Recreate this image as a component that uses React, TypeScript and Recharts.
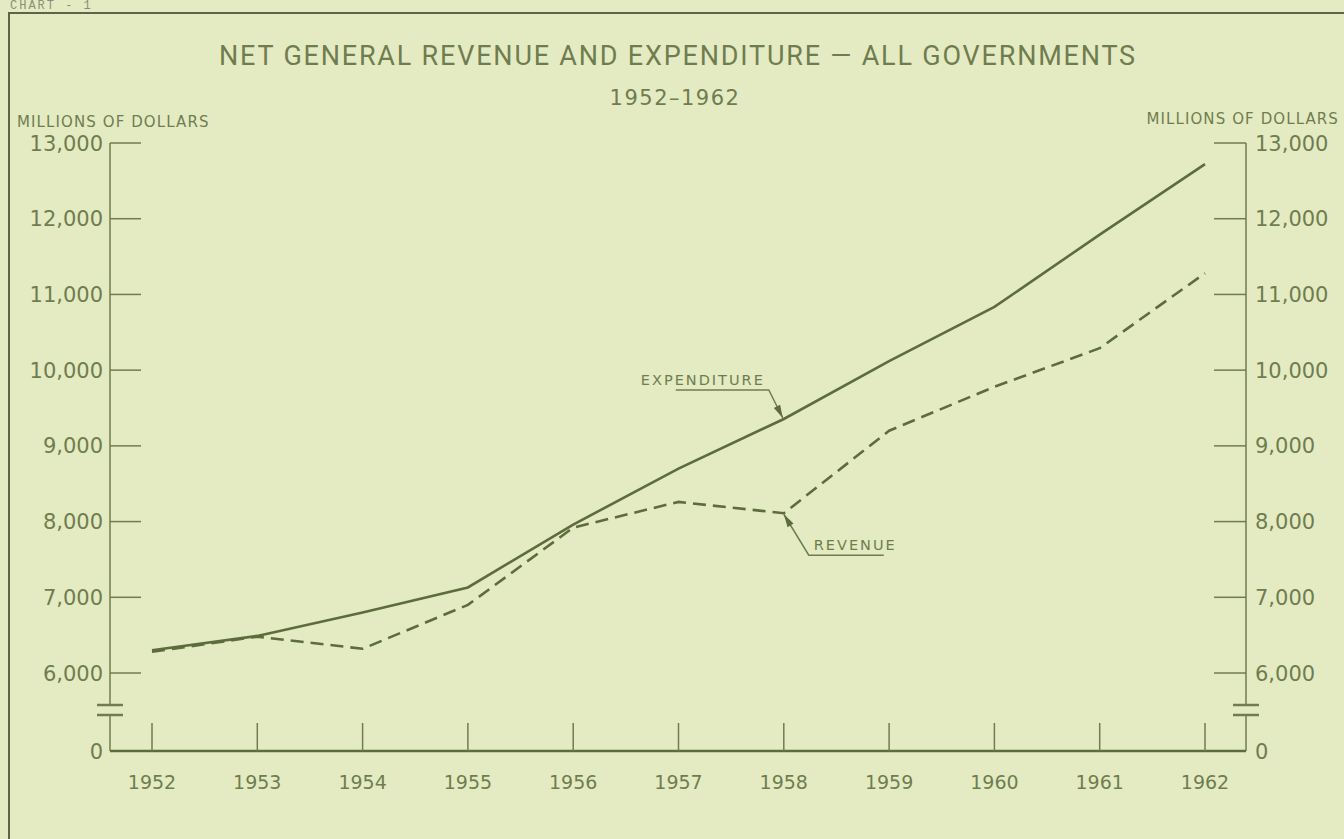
import { LineChart, Line, XAxis, YAxis, ReferenceDot } from 'recharts';

const years = ['1952', '1953', '1954', '1955', '1956', '1957', '1958', '1959', '1960', '1961', '1962'];
const expenditure = [6300, 6490, 6800, 7130, 7960, 8700, 9355, 10120, 10835, 11790, 12720];
const revenue = [6280, 6480, 6320, 6900, 7920, 8260, 8110, 9200, 9780, 10290, 11280];

// the "0" row sits below a scale break, so it gets its own spot on the axis
const AXIS_ZERO = 4970;
const yTicks = [AXIS_ZERO, 6000, 7000, 8000, 9000, 10000, 11000, 12000, 13000];

const data = years.map((year, i) => ({ year, expenditure: expenditure[i], revenue: revenue[i] }));

const BG = '#e4ebc3';
const INK = '#6f7d4e';
const LINE = '#5d6c3b';
const FONT = '"DejaVu Sans", sans-serif';

const fmt = (v: number) => (v < 6000 ? '0' : v.toLocaleString('en-US'));

function BreakMark({ x, y }: { x: number; y: number }) {
  return (
    <g>
      <rect x={x - 3} y={y - 46} width={6} height={10} fill={BG} />
      <line x1={x - 13} x2={x + 13} y1={y - 46} y2={y - 46} stroke={INK} strokeWidth={2.5} />
      <line x1={x - 13} x2={x + 13} y1={y - 36} y2={y - 36} stroke={INK} strokeWidth={2.5} />
    </g>
  );
}

function LeftTick(props: any) {
  const { x, y, payload } = props;
  const isZero = payload.value < 6000;
  return (
    <g>
      {isZero ? <BreakMark x={x} y={y} /> : <line x1={x} x2={x + 31} y1={y} y2={y} stroke={INK} strokeWidth={1.5} />}
      <text x={x - 7} y={y} dy="0.36em" textAnchor="end" fill={INK} fontSize={21} fontFamily={FONT}>
        {fmt(payload.value)}
      </text>
    </g>
  );
}

function RightTick(props: any) {
  const { x, y, payload } = props;
  const isZero = payload.value < 6000;
  return (
    <g>
      {isZero ? <BreakMark x={x} y={y} /> : <line x1={x - 32} x2={x} y1={y} y2={y} stroke={INK} strokeWidth={1.5} />}
      <text x={x + 9} y={y} dy="0.36em" textAnchor="start" fill={INK} fontSize={21} fontFamily={FONT}>
        {fmt(payload.value)}
      </text>
    </g>
  );
}

function YearTick(props: any) {
  const { x, y, payload } = props;
  return (
    <g>
      <line x1={x} x2={x} y1={y - 28} y2={y} stroke={INK} strokeWidth={1.5} />
      <text x={x} y={y + 38} textAnchor="middle" fill={INK} fontSize={19} fontFamily={FONT}>
        {payload.value}
      </text>
    </g>
  );
}

function arrowHead(tx: number, ty: number, fx: number, fy: number) {
  const dx = tx - fx;
  const dy = ty - fy;
  const len = Math.sqrt(dx * dx + dy * dy);
  const ux = dx / len;
  const uy = dy / len;
  const bx = tx - ux * 13;
  const by = ty - uy * 13;
  return `${tx},${ty} ${bx - uy * 3.5},${by + ux * 3.5} ${bx + uy * 3.5},${by - ux * 3.5}`;
}

function ExpenditureNote(props: any) {
  const { cx, cy } = props;
  const tx = cx - 1;
  const ty = cy - 1;
  return (
    <g>
      <polyline points={`${cx - 108},${cy - 29} ${cx - 15},${cy - 29} ${tx},${ty}`} fill="none" stroke={INK} strokeWidth={1.5} />
      <polygon points={arrowHead(tx, ty, cx - 15, cy - 29)} fill={LINE} />
      <text x={cx - 143} y={cy - 34} fill={INK} fontSize={14.5} letterSpacing={2} fontFamily={FONT}>
        EXPENDITURE
      </text>
    </g>
  );
}

function RevenueNote(props: any) {
  const { cx, cy } = props;
  const tx = cx;
  const ty = cy + 1;
  return (
    <g>
      <polyline points={`${cx + 100},${cy + 42} ${cx + 25},${cy + 42} ${tx},${ty}`} fill="none" stroke={INK} strokeWidth={1.5} />
      <polygon points={arrowHead(tx, ty, cx + 25, cy + 42)} fill={LINE} />
      <text x={cx + 30} y={cy + 37} fill={INK} fontSize={14.5} letterSpacing={2} fontFamily={FONT}>
        REVENUE
      </text>
    </g>
  );
}

export default function App() {
  return (
    <div style={{ position: 'absolute', left: 0, top: 0, width: 1344, height: 839, background: BG, overflow: 'hidden' }}>
      <div style={{ position: 'absolute', left: 8, top: 12, width: 1400, height: 900, borderLeft: '2px solid #5e6449', borderTop: '2px solid #5e6449' }} />
      <div style={{ position: 'absolute', left: 10, top: -1, fontFamily: '"Liberation Mono", monospace', fontSize: 12, color: '#8a8f7a', letterSpacing: 2 }}>
        CHART - 1
      </div>
      <div style={{ position: 'absolute', left: 0, width: 1356, top: 40, textAlign: 'center', fontFamily: 'Roboto, sans-serif', fontSize: 27, color: INK, letterSpacing: 1.8 }}>
        NET GENERAL REVENUE AND EXPENDITURE — ALL GOVERNMENTS
      </div>
      <div style={{ position: 'absolute', left: 0, width: 1350, top: 86, textAlign: 'center', fontFamily: FONT, fontSize: 21, color: INK, letterSpacing: 1.5 }}>
        1952–1962
      </div>
      <div style={{ position: 'absolute', left: 17, top: 113, fontFamily: FONT, fontSize: 15, color: INK, letterSpacing: 1.1 }}>
        MILLIONS OF DOLLARS
      </div>
      <div style={{ position: 'absolute', right: 5, top: 110, fontFamily: FONT, fontSize: 15, color: INK, letterSpacing: 1.1 }}>
        MILLIONS OF DOLLARS
      </div>
      <div style={{ position: 'absolute', left: 0, top: 0 }}>
        <LineChart width={1344} height={839} data={data} margin={{ top: 143, right: 38, bottom: 48, left: 50 }}>
          <XAxis
            dataKey="year"
            height={40}
            padding={{ left: 42, right: 41 }}
            axisLine={{ stroke: LINE, strokeWidth: 2.5 }}
            tickLine={false}
            tickSize={0}
            tickMargin={0}
            interval={0}
            tick={<YearTick />}
          />
          <YAxis
            yAxisId="left"
            width={60}
            type="number"
            domain={[AXIS_ZERO, 13000]}
            ticks={yTicks}
            interval={0}
            axisLine={{ stroke: INK, strokeWidth: 1.5 }}
            tickLine={false}
            tickSize={0}
            tickMargin={0}
            tick={<LeftTick />}
          />
          <YAxis
            yAxisId="right"
            orientation="right"
            width={60}
            type="number"
            domain={[AXIS_ZERO, 13000]}
            ticks={yTicks}
            interval={0}
            axisLine={{ stroke: INK, strokeWidth: 1.5 }}
            tickLine={false}
            tickSize={0}
            tickMargin={0}
            tick={<RightTick />}
          />
          <Line
            yAxisId="left"
            type="linear"
            dataKey="expenditure"
            stroke={LINE}
            strokeWidth={2.6}
            dot={false}
            isAnimationActive={false}
          />
          <Line
            yAxisId="left"
            type="linear"
            dataKey="revenue"
            stroke={LINE}
            strokeWidth={2.6}
            strokeDasharray="13 7"
            dot={false}
            isAnimationActive={false}
          />
          {/* same scale on the right; an invisible series keeps that axis drawn */}
          <Line
            yAxisId="right"
            type="linear"
            dataKey="expenditure"
            stroke="none"
            dot={false}
            activeDot={false}
            legendType="none"
            isAnimationActive={false}
          />
          <ReferenceDot yAxisId="left" x="1958" y={expenditure[6]} r={0} shape={(p: any) => <ExpenditureNote {...p} />} />
          <ReferenceDot yAxisId="left" x="1958" y={revenue[6]} r={0} shape={(p: any) => <RevenueNote {...p} />} />
        </LineChart>
      </div>
    </div>
  );
}
